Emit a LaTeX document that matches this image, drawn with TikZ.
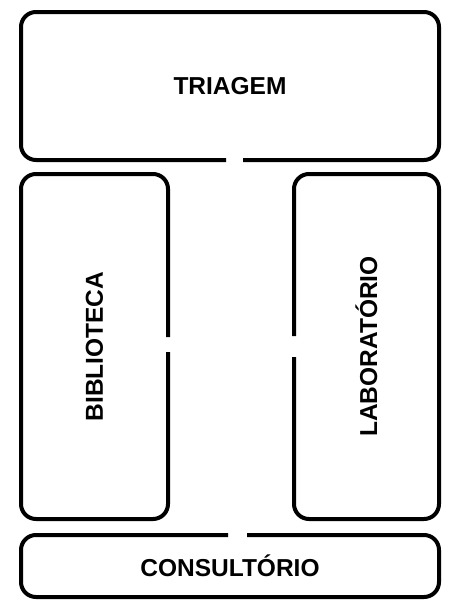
\documentclass[tikz,border=0pt]{standalone}
\usepackage{fontspec}
\setmainfont{Liberation Sans}
\begin{document}
\begin{tikzpicture}[x=1pt,y=-1pt,
  wall/.style={draw=black,line width=4pt,rounded corners=15pt,line cap=butt},
  label/.style={font=\fontsize{24.5}{28}\selectfont\bfseries,inner sep=0pt}]
\useasboundingbox[fill=white] (0,0) rectangle (457,603);
% Triagem (door on bottom edge)
\draw[wall] (243,160) -- (439,160) -- (439,12) -- (21,12) -- (21,160) -- (226,160);
% Biblioteca (door on right edge)
\draw[wall] (168,352) -- (168,519) -- (21,519) -- (21,174) -- (168,174) -- (168,337);
% Laboratorio (door on left edge)
\draw[wall] (294,336) -- (294,174) -- (439,174) -- (439,519) -- (294,519) -- (294,357);
% Consultorio (door on top edge)
\draw[wall] (247,535) -- (439,535) -- (439,597) -- (21,597) -- (21,535) -- (228,535);
\node[label] (triagem) at (230,86) {TRIAGEM};
\node[label,rotate=90] (biblioteca) at (94.5,346.5) {BIBLIOTECA};
\node[label,rotate=90] (laboratorio) at (366.5,346.5) {LABORATÓRIO};
\node[label] (consultorio) at (230,566) {CONSULTÓRIO};
\end{tikzpicture}
\end{document}
